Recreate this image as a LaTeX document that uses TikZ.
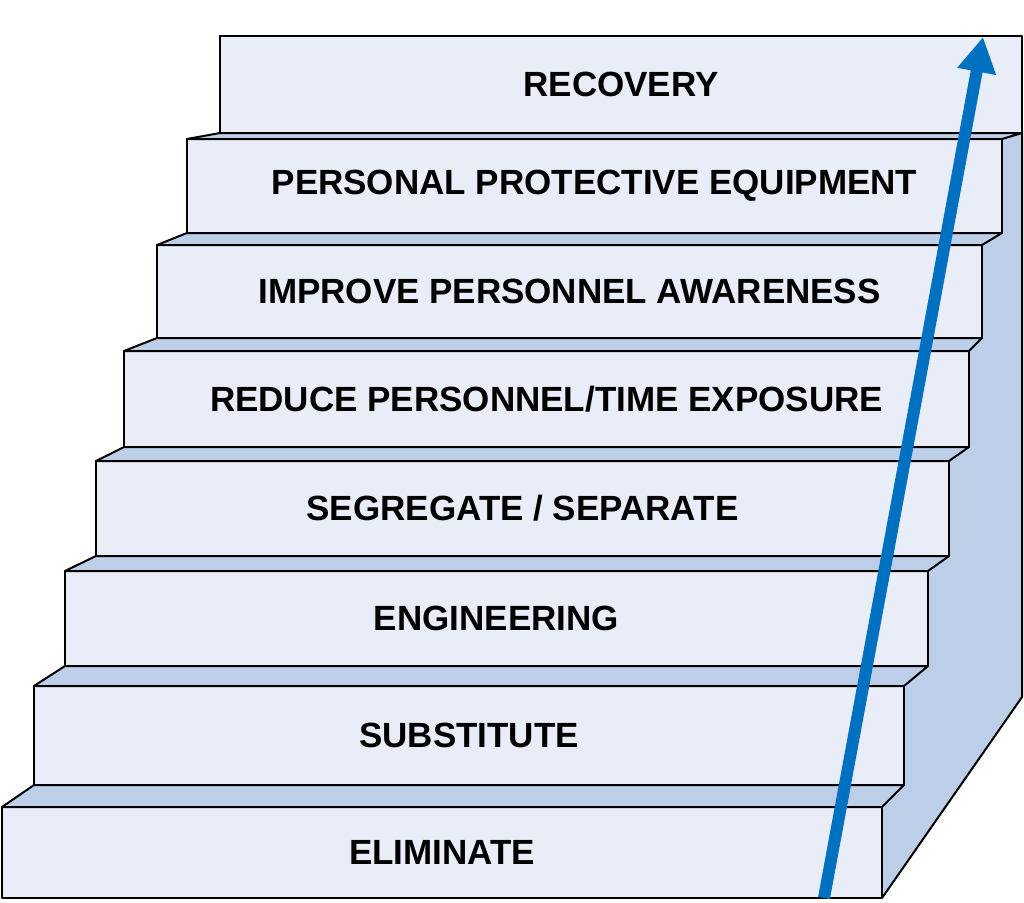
\documentclass[tikz,border=0pt]{standalone}
\usepackage{fontspec}
\setmainfont{Liberation Sans}
\usetikzlibrary{arrows.meta}
\definecolor{frontface}{RGB}{233,237,247}
\definecolor{treadface}{RGB}{189,206,232}
\definecolor{arrowblue}{RGB}{0,112,192}
\begin{document}
\begin{tikzpicture}[
		x=1pt,y=-1pt,
		line width=2pt,
		line join=round,
		stepbox/.style={draw,fill=frontface,rectangle,inner sep=0pt,outer sep=0pt,
			font=\fontsize{35}{40}\selectfont\bfseries},
		tread/.style={draw,fill=treadface},
		uparrow/.style={draw=arrowblue,line width=12pt,-{Triangle[length=35pt,width=37pt]}}
		]
		\useasboundingbox (0,0) rectangle (1024,902);
		\fill[treadface] (882,898) -- (1022,697) -- (1022,133) -- (882,133) -- cycle;
		\node[stepbox,minimum width=880pt,minimum height=91pt] (s1) at (442,852.5) {ELIMINATE};
		\node[stepbox,minimum width=870pt,minimum height=99pt] (s2) at (469,735.5) {SUBSTITUTE};
		\node[stepbox,minimum width=863pt,minimum height=95pt] (s3) at (496.5,618.5) {ENGINEERING};
		\node[stepbox,minimum width=853pt,minimum height=95pt] (s4) at (522.5,508.5) {SEGREGATE / SEPARATE};
		\node[stepbox,minimum width=845pt,minimum height=96pt] (s5) at (546.5,399) {REDUCE PERSONNEL/TIME EXPOSURE};
		\node[stepbox,minimum width=825pt,minimum height=93pt] (s6) at (569.5,291.5) {IMPROVE PERSONNEL AWARENESS};
		\node[stepbox,minimum width=815pt,minimum height=94pt] (s7) at (594.5,186) {PERSONAL PROTECTIVE EQUIPMENT};
		\node[stepbox,minimum width=802pt,minimum height=97pt] (s8) at (621,84.5) {RECOVERY};
		\foreach \i/\j in {1/2,2/3,3/4,4/5,5/6,6/7,7/8}
			\draw[tread] (s\i.north west) -- (s\j.south west) -- (s\j.south east) -- (s\i.north east) -- cycle;
		\coordinate (sidecorner) at (1022,697);
		\draw (s8.south east) -- (sidecorner) -- (s1.south east);
		\coordinate (arrowfoot) at (824,898);
		\coordinate (arrowtip) at (983,37);
		\draw[uparrow] (arrowfoot) -- (arrowtip);
		\end{tikzpicture}
\end{document}
